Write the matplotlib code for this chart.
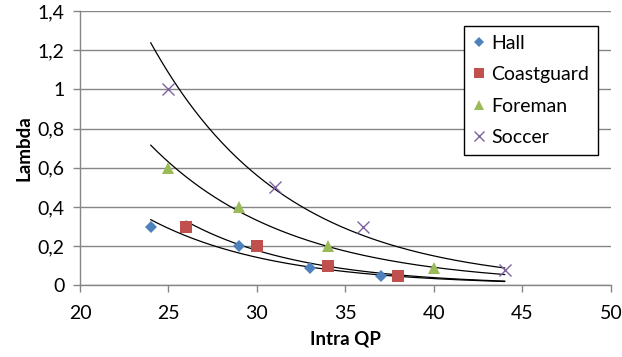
import numpy as np
import matplotlib.pyplot as plt

# data
series_names = ['Hall', 'Coastguard', 'Foreman', 'Soccer']
hall_qp = [24, 29, 33, 37]
hall_lambda = [0.30, 0.20, 0.09, 0.05]
coast_qp = [26, 30, 34, 38]
coast_lambda = [0.30, 0.20, 0.10, 0.05]
foreman_qp = [25, 29, 34, 40]
foreman_lambda = [0.60, 0.40, 0.20, 0.09]
soccer_qp = [25, 31, 36, 44]
soccer_lambda = [1.00, 0.50, 0.30, 0.08]

# trendline ranges (exponential fits)
trend_start = [24, 26, 24, 24]
trend_end = [44, 44, 44, 44]

xs = [hall_qp, coast_qp, foreman_qp, soccer_qp]
ys = [hall_lambda, coast_lambda, foreman_lambda, soccer_lambda]
colors = ['#4F81BD', '#C0504D', '#9BBB59', '#8064A2']
markers = ['D', 's', '^', 'x']
msizes = [6.5, 8, 8, 8]

plt.rcParams['font.family'] = ['Lato', 'DejaVu Sans']
fs = 14

fig = plt.figure(figsize=(6.22, 3.57), dpi=100)
ax = fig.add_axes([0.1286, 0.2008, 0.8534, 0.7684])

for i in range(4):
    b, a = np.polyfit(xs[i], np.log(ys[i]), 1)
    tx = np.linspace(trend_start[i], trend_end[i], 200)
    ax.plot(tx, np.exp(a + b * tx), color='black', lw=0.9, zorder=2)

for i in range(4):
    kw = dict(markeredgewidth=1.0) if markers[i] == 'x' else dict(markeredgewidth=0)
    ax.plot(xs[i], ys[i], linestyle='none', marker=markers[i], color=colors[i],
            markersize=msizes[i], label=series_names[i], zorder=3, **kw)

ax.set_xlim(20, 50)
ax.set_ylim(0, 1.4)
ax.set_xticks(np.arange(20, 51, 5))
ax.set_yticks(np.arange(0, 1.41, 0.2))
ax.set_yticklabels(['0', '0,2', '0,4', '0,6', '0,8', '1', '1,2', '1,4'])
ax.tick_params(labelsize=fs, color='#868686', length=5, width=1)
ax.tick_params(axis='x', pad=9)
ax.tick_params(axis='y', pad=6)
ax.grid(axis='y', color='#868686', lw=1)
ax.set_axisbelow(True)
for s in ['top', 'right']:
    ax.spines[s].set_visible(False)
for s in ['left', 'bottom']:
    ax.spines[s].set_color('#868686')
    ax.spines[s].set_linewidth(1)

ax.set_xlabel('Intra QP', fontsize=fs - 0.5, fontweight='bold', labelpad=6)
ax.set_ylabel('Lambda', fontsize=fs - 0.5, fontweight='bold', labelpad=4)

leg = ax.legend(loc='upper right', bbox_to_anchor=(0.976, 0.945), fontsize=fs,
                frameon=True, fancybox=False, edgecolor='black', framealpha=1,
                handlelength=0.6, handletextpad=0.35, labelspacing=0.74,
                borderpad=0.45, borderaxespad=0, markerscale=0.85)
leg.get_frame().set_linewidth(1)

fig.savefig('out.png', dpi=100)
